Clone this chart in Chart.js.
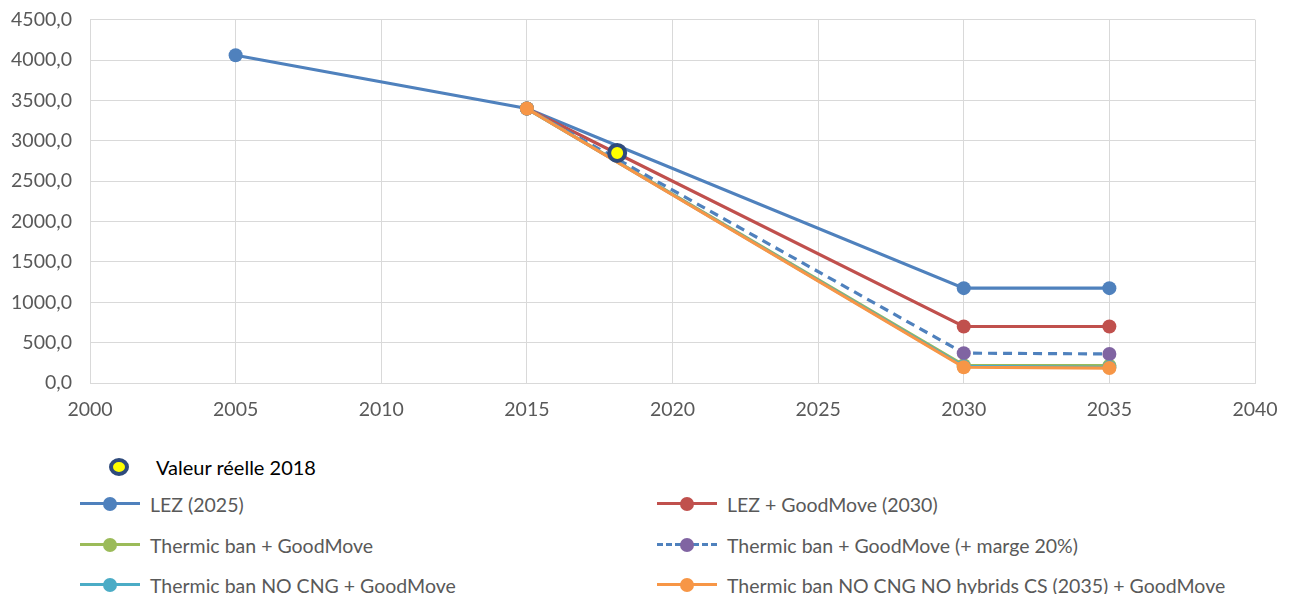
<!DOCTYPE html>
<html>
<head>
<meta charset="utf-8">
<script src="https://cdn.jsdelivr.net/npm/chart.js@4.4.0/dist/chart.umd.min.js"></script>
<style>
    body { margin: 0; background: #fff; font-family: Lato, sans-serif; overflow: hidden; }
    #wrap { position: absolute; left: 0; top: -10px; width: 1295px; height: 450px; }
    #legend { position: absolute; left: 0; top: 440px; width: 1295px; height: 154px; }
    .item { position: absolute; height: 30px; display: flex; align-items: center; font-size: 19.5px; color: #595959; white-space: nowrap; }
    .mark { position: relative; width: 60px; height: 30px; margin-right: 10px; }
    .mark .ln { position: absolute; left: 0; right: 0; top: 13px; height: 0; border-top: 3px solid; }
    .mark .dot { position: absolute; left: 23px; top: 8px; width: 14px; height: 14px; border-radius: 50%; }
</style>
</head>
<body>
<div id="wrap"><canvas id="chart" width="1295" height="450"></canvas></div>
<div id="legend"></div>
<script>
// series data (x = year)
const years = [2005, 2015, 2030, 2035];
const lezValues = [4060, 3400, 1175, 1175];
const lezGoodMove = [null, 3400, 700, 700];
const thermicBan = [null, 3400, 220, 215];
const thermicBanMarge = [null, 3400, 370, 360];
const thermicNoCng = [null, 3400, 205, 195];
const thermicNoCngNoHybrids = [null, 3400, 195, 185];
const realYear = [2018.1];
const realValue = [2850];

const xTicks = [2000, 2005, 2010, 2015, 2020, 2025, 2030, 2035, 2040];
const yTicks = [0, 500, 1000, 1500, 2000, 2500, 3000, 3500, 4000, 4500];

// Helper to turn x/y arrays into points, skipping empty values
function toPoints(xs, ys) {
    const pts = [];
    xs.forEach((x, i) => {
        if (ys[i] !== null) pts.push({ x: x, y: ys[i] });
    });
    return pts;
}

function lineSet(label, values, color, pointColor, order, dashed) {
    return {
        label: label,
        data: toPoints(years, values),
        borderColor: color,
        backgroundColor: pointColor,
        pointBackgroundColor: pointColor,
        pointBorderColor: pointColor,
        pointRadius: 7,
        pointBorderWidth: 0,
        borderWidth: 3.2,
        borderDash: dashed ? [9, 6] : [],
        order: order,
        fill: false,
        tension: 0
    };
}

const datasets = [
    {
        label: 'Valeur réelle 2018',
        data: toPoints(realYear, realValue),
        showLine: false,
        pointRadius: 8,
        pointBorderWidth: 4,
        pointBackgroundColor: '#ffff00',
        pointBorderColor: '#2f4b7c',
        borderColor: '#2f4b7c',
        backgroundColor: '#ffff00',
        order: 0
    },
    lineSet('LEZ (2025)', lezValues, '#4f81bd', '#4f81bd', 6, false),
    lineSet('LEZ + GoodMove (2030)', lezGoodMove, '#c0504d', '#c0504d', 5, false),
    lineSet('Thermic ban + GoodMove', thermicBan, '#9bbb59', '#9bbb59', 4, false),
    lineSet('Thermic ban + GoodMove (+ marge 20%)', thermicBanMarge, '#4f81bd', '#8064a2', 3, true),
    lineSet('Thermic ban NO CNG + GoodMove', thermicNoCng, '#4bacc6', '#4bacc6', 2, false),
    lineSet('Thermic ban NO CNG NO hybrids CS (2035) + GoodMove', thermicNoCngNoHybrids, '#f79646', '#f79646', 1, false)
];

const gridColor = '#d9d9d9';
const tickFont = { family: 'Lato, sans-serif', size: 19.5 };

const chart = new Chart(document.getElementById('chart'), {
    type: 'line',
    data: { datasets: datasets },
    options: {
        responsive: false,
        animation: false,
        layout: { padding: { top: 9, right: 40, left: 0, bottom: 0 } },
        plugins: { legend: { display: false }, tooltip: { enabled: false } },
        scales: {
            x: {
                type: 'linear',
                min: 2000,
                max: 2040,
                afterBuildTicks: (scale) => { scale.ticks = xTicks.map(v => ({ value: v })); },
                afterFit: (scale) => { scale.height = 57; },
                ticks: { color: '#595959', font: tickFont, padding: 15, maxRotation: 0, callback: (v) => String(v) },
                grid: { color: gridColor, drawTicks: false },
                border: { color: gridColor }
            },
            y: {
                min: 0,
                max: 4500,
                afterBuildTicks: (scale) => { scale.ticks = yTicks.map(v => ({ value: v })); },
                afterFit: (scale) => { scale.width = 90; },
                ticks: {
                    color: '#595959',
                    font: tickFont,
                    padding: 18,
                    callback: (v) => v.toFixed(1).replace('.', ',')
                },
                grid: { color: gridColor, drawTicks: false },
                border: { color: gridColor }
            }
        }
    }
});

// HTML legend built from the chart datasets
function buildLegend() {
    const legend = document.getElementById('legend');
    const ds = chart.data.datasets;
    // real value marker on its own row
    const real = document.createElement('div');
    real.className = 'item';
    real.style.left = '109px';
    real.style.top = '12px';
    real.style.color = '#000';
    real.style.fontSize = '20px';
    real.innerHTML = '<span style="display:inline-block;width:12px;height:10px;border-radius:50%;background:#ffff00;border:4px solid #2f4b7c;margin-right:27px"></span>' + ds[0].label;
    legend.appendChild(real);

    const lefts = [80, 657];
    const tops = [49, 90, 130];
    ds.slice(1).forEach((d, i) => {
        const item = document.createElement('div');
        item.className = 'item';
        item.style.left = lefts[i % 2] + 'px';
        item.style.top = tops[Math.floor(i / 2)] + 'px';
        const dash = d.borderDash.length ? 'dashed' : 'solid';
        item.innerHTML = '<span class="mark"><span class="ln" style="border-top-color:' + d.borderColor +
            ';border-top-style:' + dash + '"></span><span class="dot" style="background:' + d.pointBackgroundColor +
            '"></span></span>' + d.label;
        legend.appendChild(item);
    });
}
buildLegend();
</script>
</body>
</html>
